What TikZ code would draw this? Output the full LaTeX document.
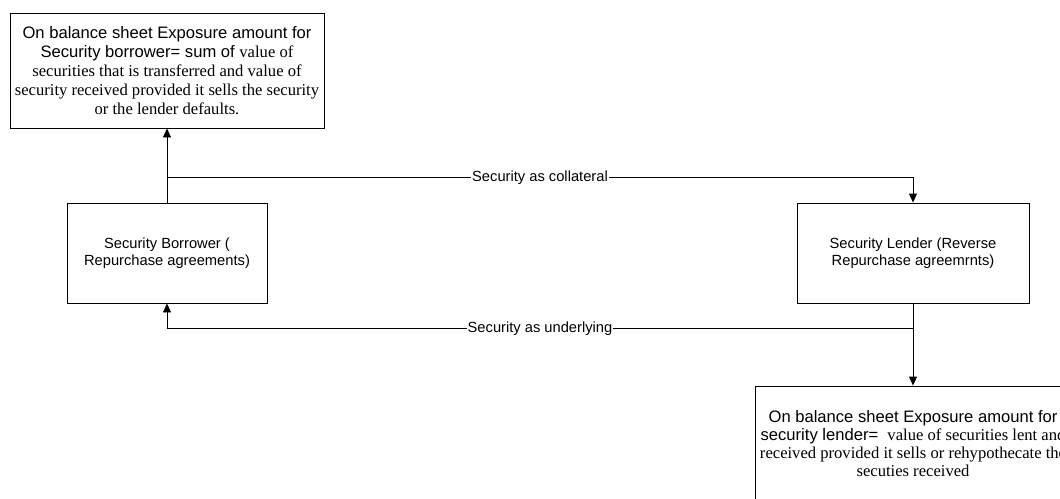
\documentclass[tikz,border=0pt]{standalone}
\usepackage{fontspec}
\setmainfont{Liberation Serif}
\setsansfont{Liberation Sans}
\usetikzlibrary{arrows.meta,positioning}
\tikzset{
  pbox/.style={rectangle,draw=black,line width=0.9pt,fill=white,align=center,
               font=\sffamily\fontsize{14.7}{17.5}\selectfont,inner sep=2pt},
  xbox/.style={pbox,font=\sffamily\fontsize{16.6}{19}\selectfont},
  fline/.style={-{Triangle[length=9pt,width=8pt]},line width=0.9pt},
  flabel/.style={fill=white,inner sep=1pt,font=\sffamily\fontsize{14.7}{17.5}\selectfont},
}
\begin{document}
\begin{tikzpicture}[x=1pt,y=-1pt]
  \useasboundingbox (0,0) rectangle (1060,498);
  \clip (0,0) rectangle (1060,498);
  % parties
  \node[pbox,minimum width=200pt,minimum height=100pt] (borrower) at (167,253)
    {Security Borrower (\\Repurchase agreements)};
  \node[pbox,minimum width=232pt,minimum height=100pt] (lender) at (913,253)
    {Security Lender (Reverse\\Repurchase agreemrnts)};
  % exposure boxes
  \node[xbox,minimum width=314pt,minimum height=115pt] (expb) at (167,70.5)
    {On balance sheet Exposure amount for\\
     Security borrower= sum of {\rmfamily value of}\\
     {\rmfamily securities that is transferred and value of}\\
     {\rmfamily security received provided it sells the security}\\
     {\rmfamily or the lender defaults.}};
  \node[xbox,font=\sffamily\fontsize{16.6}{18}\selectfont,
        minimum width=316pt,minimum height=116pt] (expl) at (913,444)
    {On balance sheet Exposure amount for\\
     security lender=\ \ {\rmfamily value of securities lent and}\\
     {\rmfamily received provided it sells or rehypothecate the}\\
     {\rmfamily secuties received}};
  % flows
  \draw[fline] (borrower.north) -- (expb.south);
  \draw[fline] (borrower.north) -- ++(0,-25)
    -| node[pos=0.25,flabel] {Security as collateral} (lender.north);
  \draw[fline] (lender.south) -- (expl.north);
  \draw[fline] (lender.south) ++(0,25)
    -| node[pos=0.25,flabel] {Security as underlying} (borrower.south);
\end{tikzpicture}
\end{document}
